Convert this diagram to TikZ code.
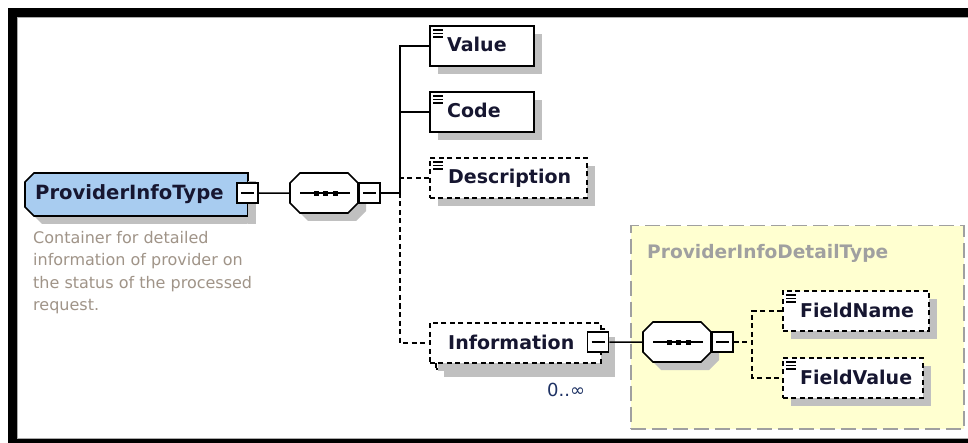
\documentclass[tikz,border=0pt]{standalone}
\usepackage{fontspec}
\setmainfont{DejaVu Sans}
\usetikzlibrary{shadows}

\definecolor{typeblue}{RGB}{168,204,240}
\definecolor{shadowgray}{RGB}{192,192,192}
\definecolor{elemtext}{RGB}{22,22,48}
\definecolor{doctext}{RGB}{160,148,136}
\definecolor{groupfill}{RGB}{255,255,208}
\definecolor{groupline}{RGB}{160,160,160}
\definecolor{occtext}{RGB}{30,50,100}
\definecolor{framegray}{RGB}{170,170,170}

% octagon outline from (x1,y1) to (x2,y2) with corner cut c
\newcommand\octa[5]{(#1+#5,#2) -- (#3-#5,#2) -- (#3,#2+#5) -- (#3,#4-#5) -- (#3-#5,#4) -- (#1+#5,#4) -- (#1,#4-#5) -- (#1,#2+#5) -- cycle}
% small "text content" icon in the top left corner of an element box
\newcommand\elemicon[1]{%
  \foreach \dy in {5,8.5,12}
    \draw[line width=1.1pt] ([shift={(4,\dy)}]#1.north west) -- ++(10,0);}
% the three dots of a sequence compositor
\newcommand\seqdots[1]{%
  \draw[line width=1.5pt] ([xshift=-24pt]#1.center) -- ([xshift=26pt]#1.center);
  \foreach \dx in {-8,1.5,11}
    \fill ([shift={(\dx-2.5,-2.5)}]#1.center) rectangle ++(5,5);}

\tikzset{
  x=1pt, y=-1pt,
  shadowed/.style={drop shadow={shadow xshift=8pt, shadow yshift=-8pt, fill=shadowgray, opacity=1}},
  elembox/.style={draw=black, line width=1.6pt, fill=white, inner sep=0pt,
    anchor=north west, minimum height=40pt, shadowed},
  optional/.style={dash pattern=on 5pt off 3.5pt},
  elemname/.style={anchor=base west, inner sep=0pt, text=elemtext,
    font=\fontsize{19}{22}\selectfont\bfseries},
  pmbox/.style={draw=black, line width=1.5pt, fill=white, minimum width=21pt,
    minimum height=20pt, inner sep=0pt,
    path picture={\draw[line width=1.3pt]
      ([xshift=4pt]path picture bounding box.west) --
      ([xshift=-4pt]path picture bounding box.east);}},
  anchorbox/.style={inner sep=0pt, anchor=north west},
  conn/.style={line width=1.5pt},
  octline/.style={draw=black, line width=1.6pt, fill=white},
}

\begin{document}
\begin{tikzpicture}
\useasboundingbox (0,0) rectangle (968,443);
\fill[white] (0,0) rectangle (968,443);

% window frame
\fill[black] (8,8) rectangle (968,17);
\fill[black] (8,8) rectangle (17,443);
\fill[black] (8,439) rectangle (968,443);
\draw[framegray, line width=0.8pt] (968,17.6) -- (17.6,17.6) -- (17.6,438.4) -- (968,438.4);

% complex type group
\node[anchorbox, minimum width=333pt, minimum height=203pt, fill=groupfill,
      draw=groupline, line width=1.5pt, dash pattern=on 15pt off 6pt] (group) at (630,225) {};
\node[anchor=base west, inner sep=0pt, text=groupline,
      font=\fontsize{18.6}{22}\selectfont\bfseries] (grouptitle) at (647,259) {ProviderInfoDetailType};

% root type
\fill[shadowgray] \octa{33}{181}{256}{224}{9};
\fill[white] (248,173) rectangle (260,216);
\node[anchorbox, minimum width=223pt, minimum height=43pt] (main) at (25,173) {};
\filldraw[fill=typeblue, draw=black, line width=1.6pt]
  (25+9,173) -- (248,173) -- (248,216) -- (25+9,216) -- (25,216-9) -- (25,173+9) -- cycle;
\fill[shadowgray] (248,181) rectangle (256,224);
\node[elemname, font=\fontsize{19.6}{22}\selectfont\bfseries] (maintext) at (35,200) {ProviderInfoType};
\node[pmbox] (mainpm) at (247.5,193) {};
\node[anchor=north west, inner sep=0pt, align=left, text=doctext,
      font=\fontsize{16}{22.5}\selectfont] (doc) at (33,231)
  {Container for detailed\\information of provider on\\the status of the processed\\request.};

% first sequence compositor
\fill[shadowgray] \octa{298}{181}{366}{221}{10};
\node[anchorbox, minimum width=68pt, minimum height=40pt] (seq1) at (290,173) {};
\path[octline] \octa{290}{173}{358}{213}{10};
\seqdots{seq1}
\node[pmbox] (seq1pm) at (369.5,193) {};

% children of the first sequence
\node[elembox, minimum width=104pt] (value) at (429,25) {};
\elemicon{value}
\node[elemname] (valuetext) at (447,52) {Value};

\node[elembox, minimum width=104pt] (code) at (429,91) {};
\elemicon{code}
\node[elemname] (codetext) at (447,118) {Code};

\node[elembox, optional, minimum width=157pt] (desc) at (429,157) {};
\elemicon{desc}
\node[elemname] (desctext) at (448,184) {Description};

\node[elembox, optional, minimum width=171pt] (infoback) at (435,328) {};
\node[elembox, optional, minimum width=171pt, drop shadow={opacity=0}] (info) at (429,322) {};
\node[elemname] (infotext) at (448,349) {Information};
\node[pmbox] (infopm) at (598,342) {};
\node[anchor=base west, inner sep=0pt, text=occtext,
      font=\fontsize{18}{20}\selectfont] (occ) at (547,396) {0..∞};

% second sequence compositor
\fill[shadowgray] \octa{651}{330}{719}{370}{10};
\node[anchorbox, minimum width=68pt, minimum height=40pt] (seq2) at (643,322) {};
\path[octline] \octa{643}{322}{711}{362}{10};
\seqdots{seq2}
\node[pmbox] (seq2pm) at (722.5,342) {};

\node[elembox, optional, minimum width=146pt] (fname) at (782,290) {};
\elemicon{fname}
\node[elemname] (fnametext) at (800,317) {FieldName};

\node[elembox, optional, minimum width=140pt] (fvalue) at (782,357) {};
\elemicon{fvalue}
\node[elemname] (fvaluetext) at (800,384) {FieldValue};

% connectors
\coordinate (bus1) at (400,193);
\coordinate (bus2) at (752,342);
\draw[conn] (mainpm.east) -- (seq1.west);
\draw[conn] (seq1pm.east) -- (bus1);
\draw[conn] (value.west) -- (value.west -| bus1) -- (bus1);
\draw[conn] (code.west) -- (code.west -| bus1);
\draw[conn, optional] (desc.west) -- (desc.west -| bus1);
\draw[conn, optional] (bus1) -- (info.west -| bus1) -- (info.west);
\draw[conn] (infopm.east) -- (seq2.west);
\draw[conn, optional] (seq2pm.east) -- (bus2);
\draw[conn, optional] (fname.west) -- (fname.west -| bus2) -- (fvalue.west -| bus2) -- (fvalue.west);
\end{tikzpicture}
\end{document}
